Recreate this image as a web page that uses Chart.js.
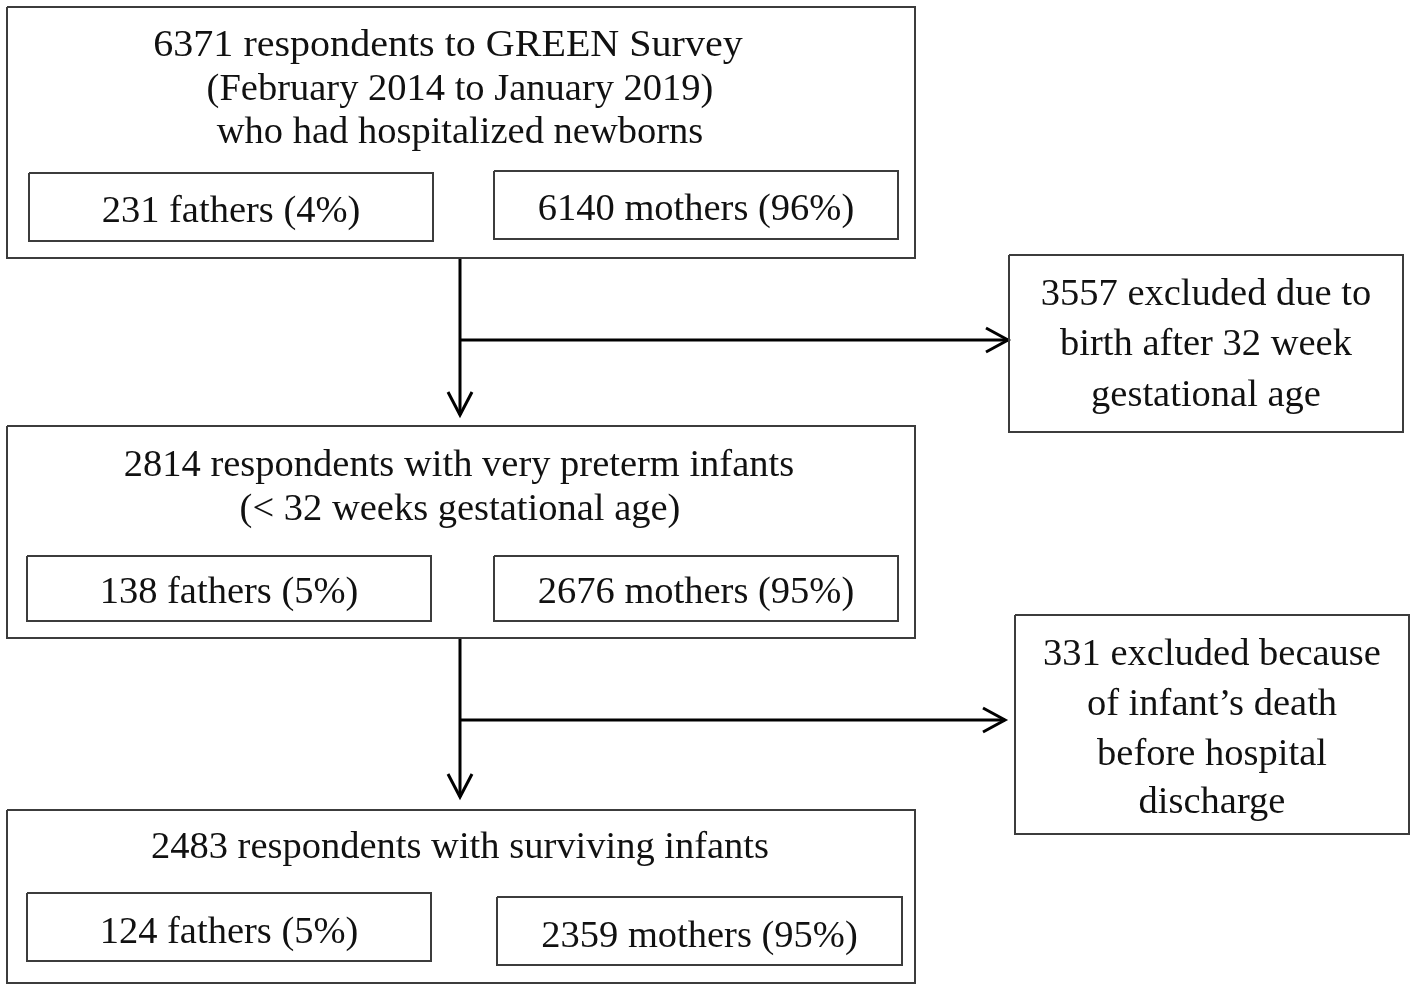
<!DOCTYPE html>
<html>
<head>
<meta charset="utf-8">
<title>GREEN Survey flow</title>
<script src="https://cdn.jsdelivr.net/npm/chart.js@4.4.1/dist/chart.umd.min.js"></script>
<style>
    html, body { margin: 0; padding: 0; background: #fff; }
    #wrap { width: 1417px; height: 990px; position: relative; }
</style>
</head>
<body>
<div id="wrap"><canvas id="flow"></canvas></div>
<script>
// 数据: 各阶段人数
const stageCounts = [6371, 2814, 2483];
const stageTitles = [
    [stageCounts[0] + ' respondents to GREEN Survey', '(February 2014 to January 2019)', 'who had hospitalized newborns'],
    [stageCounts[1] + ' respondents with very preterm infants', '(< 32 weeks gestational age)'],
    [stageCounts[2] + ' respondents with surviving infants']
];
const fatherCounts = [231, 138, 124];
const fatherPct = [4, 5, 5];
const motherCounts = [6140, 2676, 2359];
const motherPct = [96, 95, 95];
const excludedCounts = [3557, 331];
const excludedText = [
    [excludedCounts[0] + ' excluded due to', 'birth after 32 week', 'gestational age'],
    [excludedCounts[1] + ' excluded because', 'of infant\u2019s death', 'before hospital', 'discharge']
];

// 版面: 方框 [x1, y1, x2, y2], 文字行中心
const stageBoxes = [[7, 7, 915, 258], [7, 426, 915, 638], [7, 810, 915, 983]];
const stageLineY = [[46, 90, 133], [466, 510], [848]];
const stageLineX = [[448, 460, 460], [459, 460], [460]];
const stageLineScale = [[1.04, 1, 1], [1, 1], [1]];
const fatherBoxes = [[29, 173, 433, 241], [27, 556, 431, 621], [27, 893, 431, 961]];
const motherBoxes = [[494, 171, 898, 239], [494, 556, 898, 621], [497, 897, 902, 965]];
const fatherTextY = [212, 593, 933];
const motherTextY = [210, 593, 937];
const excludedBoxes = [[1009, 255, 1403, 432], [1015, 615, 1409, 834]];
const excludedLineY = [[295, 345, 396], [655, 705, 755, 803]];
const arrowsDown = [[460, 258, 415], [460, 638, 797]];
const arrowsRight = [[460, 340, 1008], [460, 720, 1005]];

const BOX_COLOR = '#3c3c3c';
const ARROW_COLOR = '#000000';
const FONT = '38.5px "Liberation Serif", "Times New Roman", serif';

function rectPoints(b) {
    return [{x: b[0], y: b[1]}, {x: b[2], y: b[1]}, {x: b[2], y: b[3]}, {x: b[0], y: b[3]}, {x: b[0], y: b[1]}];
}

function lineSet(points, color, width) {
    return {
        type: 'line',
        data: points,
        borderColor: color,
        borderWidth: width,
        pointRadius: 0,
        fill: false,
        tension: 0,
        borderJoinStyle: 'miter',
        borderCapStyle: 'butt'
    };
}

const datasets = [];
stageBoxes.concat(fatherBoxes, motherBoxes, excludedBoxes).forEach(b => {
    datasets.push(lineSet(rectPoints(b), BOX_COLOR, 2));
});
// 向下箭头
arrowsDown.forEach(a => {
    datasets.push(lineSet([{x: a[0], y: a[1]}, {x: a[0], y: a[2]}], ARROW_COLOR, 3));
    datasets.push(lineSet([{x: a[0] - 12, y: a[2] - 23}, {x: a[0], y: a[2]}, {x: a[0] + 12, y: a[2] - 23}], ARROW_COLOR, 3));
});
// 向右箭头
arrowsRight.forEach(a => {
    datasets.push(lineSet([{x: a[0], y: a[1]}, {x: a[2], y: a[1]}], ARROW_COLOR, 3));
    datasets.push(lineSet([{x: a[2] - 22, y: a[1] - 12}, {x: a[2], y: a[1]}, {x: a[2] - 22, y: a[1] + 12}], ARROW_COLOR, 3));
});

// 文字插件
const textPlugin = {
    id: 'flowText',
    afterDatasetsDraw(chart) {
        const ctx = chart.ctx;
        const xs = chart.scales.x, ys = chart.scales.y;
        ctx.save();
        ctx.fillStyle = '#111';
        ctx.font = FONT;
        ctx.textAlign = 'center';
        ctx.textBaseline = 'middle';
        const put = (t, x, y, sx) => {
            ctx.save();
            ctx.translate(xs.getPixelForValue(x), ys.getPixelForValue(y));
            ctx.scale(sx || 1, 1);
            ctx.fillText(t, 0, 0);
            ctx.restore();
        };

        stageTitles.forEach((lines, i) => {
            lines.forEach((t, j) => put(t, stageLineX[i][j], stageLineY[i][j], stageLineScale[i][j]));
            const fb = fatherBoxes[i], mb = motherBoxes[i];
            put(fatherCounts[i] + ' fathers (' + fatherPct[i] + '%)', (fb[0] + fb[2]) / 2, fatherTextY[i]);
            put(motherCounts[i] + ' mothers (' + motherPct[i] + '%)', (mb[0] + mb[2]) / 2, motherTextY[i]);
        });
        excludedText.forEach((lines, i) => {
            const eb = excludedBoxes[i];
            lines.forEach((t, j) => put(t, (eb[0] + eb[2]) / 2, excludedLineY[i][j]));
        });
        ctx.restore();
    }
};

document.addEventListener('DOMContentLoaded', function() {
    new Chart(document.getElementById('flow').getContext('2d'), {
        type: 'line',
        data: { datasets: datasets },
        options: {
            responsive: true,
            maintainAspectRatio: false,
            animation: false,
            layout: { padding: 0 },
            parsing: false,
            scales: {
                x: { type: 'linear', min: 0, max: 1417, display: false },
                y: { type: 'linear', min: 0, max: 990, reverse: true, display: false }
            },
            plugins: {
                legend: { display: false },
                tooltip: { enabled: false }
            }
        },
        plugins: [textPlugin]
    });
});
</script>
</body>
</html>
